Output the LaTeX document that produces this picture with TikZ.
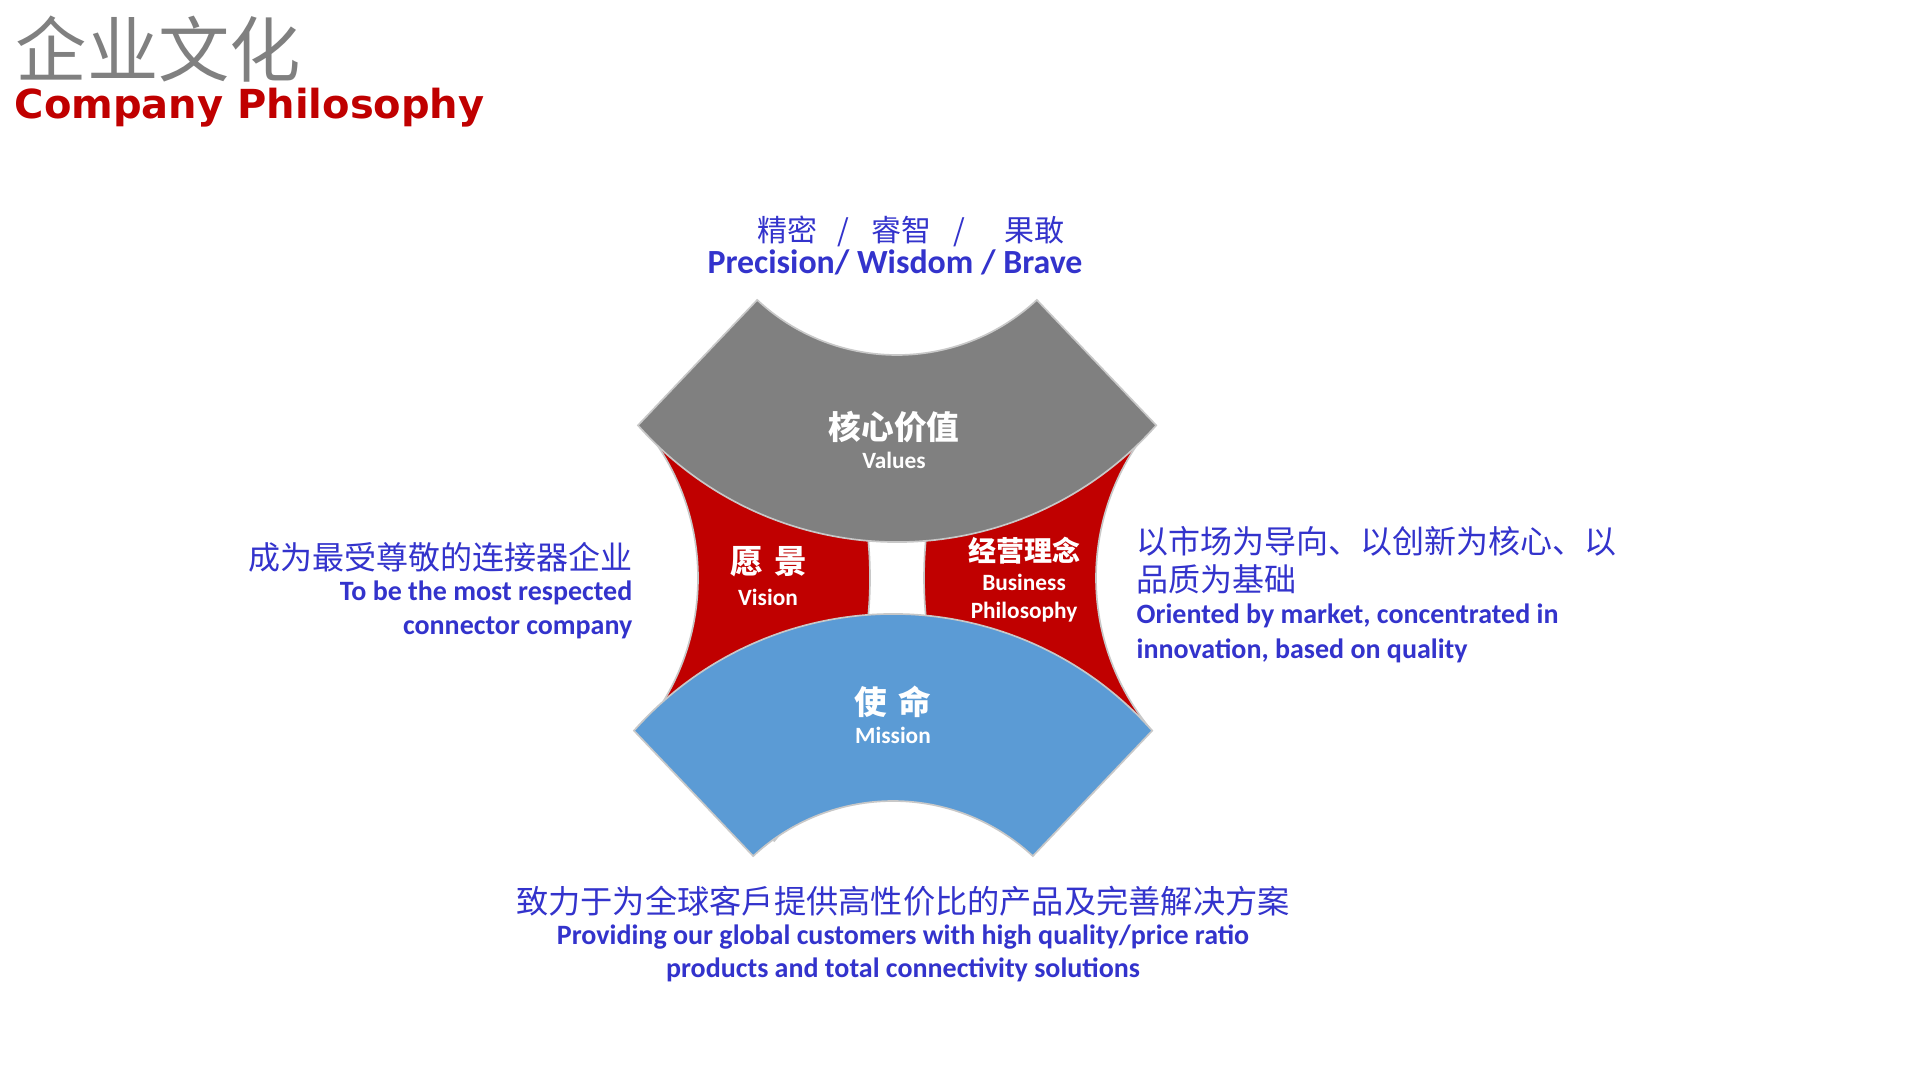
\documentclass[tikz,border=0pt]{standalone}
\usepackage{fontspec}
\setmainfont{Carlito}
\newfontfamily\cjk{Noto Sans CJK SC}
\newfontfamily\titlefont{DejaVu Sans}
\definecolor{valgray}{HTML}{808080}
\definecolor{corered}{HTML}{C00000}
\definecolor{missblue}{HTML}{5B9BD5}
\definecolor{txtblue}{HTML}{3333CC}
\definecolor{edgegray}{HTML}{C8C8C8}
\tikzset{
  sector/.style={draw=edgegray, line width=0.5pt},
  cntxt/.style={inner sep=0, text=txtblue, font=\cjk\fontsize{9.6pt}{11pt}\selectfont},
  entxt/.style={inner sep=0, text=txtblue, font=\bfseries\fontsize{8.4pt}{10pt}\selectfont},
  cnlbl/.style={inner sep=0, text=white, font=\cjk\bfseries\fontsize{9.8pt}{11pt}\selectfont},
  enlbl/.style={inner sep=0, text=white, font=\bfseries\fontsize{7pt}{8pt}\selectfont},
}

\begin{document}
\begin{tikzpicture}[x=0.3pt, y=-0.3pt]
    \useasboundingbox (0,0) rectangle (1920,1080);
    \fill[white] (0,0) rectangle (1920,1080);

    \node[anchor=west, inner sep=0, text=valgray, font=\cjk\fontsize{21.4pt}{24pt}\selectfont] (titlecn) at (15,49) {企业文化};
    \node[anchor=base west, inner sep=0, text=corered, font=\titlefont\bfseries\fontsize{12pt}{14pt}\selectfont] (titleen) at (14,119) {Company Philosophy};

    % side pieces first, the others lie on them
    \foreach \cx/\a in {461/0, 1333/180} {
      \fill[corered, sector] (\cx,578) ++(\a-40:237) arc[start angle=\a-40, end angle=\a+40, radius=237]
        -- ++(\a+40:172) arc[start angle=\a+40, end angle=\a-40, radius=409] -- cycle;
    }
    \fill[valgray, sector] (897,150) ++(133:205) arc[start angle=133, end angle=47, radius=205]
      -- ++(119.4,125.4) arc[start angle=41.5, end angle=138.5, radius=346] -- cycle;
    \fill[missblue, sector] (893,1006) ++(227:205) arc[start angle=227, end angle=313, radius=205]
      -- ++(119.4,-125.4) arc[start angle=318.5, end angle=221.5, radius=346] -- cycle;

    \node[cnlbl] (valcn) at (894,427) {核心价值};
    \node[enlbl, anchor=base] (valen) at (894,468) {Values};
    \node[cnlbl] (viscn) at (769,562) {愿\hspace{3.5pt}景};
    \node[enlbl, anchor=base] (visen) at (768,605) {Vision};
    \node[cnlbl, font=\cjk\bfseries\fontsize{8.4pt}{10pt}\selectfont] (bizcn) at (1024,551) {经营理念};
    \node[enlbl, anchor=base] (bizen) at (1024,590) {Business};
    \node[enlbl, anchor=base] (bizen2) at (1024,618) {Philosophy};
    \node[cnlbl] (miscn) at (893,702) {使\hspace{3.5pt}命};
    \node[enlbl, anchor=base] (misen) at (893,743) {Mission};

    \node[cntxt, font=\cjk\fontsize{9pt}{11pt}\selectfont] (valtxt) at (911,231) {精密\hspace{6pt}/\hspace{6.6pt}睿智\hspace{6.6pt}/\hspace{11.7pt}果敢};
    \node[entxt, anchor=base, font=\bfseries\fontsize{10.15pt}{12pt}\selectfont] (valtxten) at (895,274) {Precision/ Wisdom / Brave};

    \node[cntxt, anchor=east] (vistxt) at (633,557) {成为最受尊敬的连接器企业};
    \node[entxt, anchor=base east] (vistxten) at (633,600) {To be the most respected};
    \node[entxt, anchor=base east] (vistxten2) at (633,634) {connector company};

    \node[cntxt, anchor=west] (biztxt) at (1136,541) {以市场为导向、以创新为核心、以};
    \node[cntxt, anchor=west] (biztxt2) at (1136,579) {品质为基础};
    \node[entxt, anchor=base west] (biztxten) at (1136,623) {Oriented by market, concentrated in};
    \node[entxt, anchor=base west] (biztxten2) at (1136,658) {innovation, based on quality};

    \node[cntxt, font=\cjk\fontsize{9.67pt}{11pt}\selectfont] (mistxt) at (903,901) {致力于为全球客戶提供高性价比的产品及完善解决方案};
    \node[entxt, anchor=base] (mistxten) at (903,944) {Providing our global customers with high quality/price ratio};
    \node[entxt, anchor=base] (mistxten2) at (903,977) {products and total connectivity solutions};
\end{tikzpicture}
\end{document}
